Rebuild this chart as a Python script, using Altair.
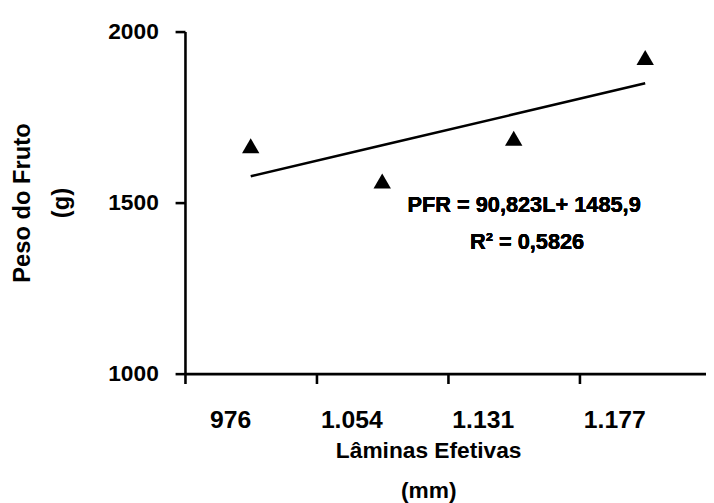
import altair as alt
import pandas as pd

# Data
laminas = ["976", "1.054", "1.131", "1.177"]          # Lâminas efetivas (mm)
peso = [1666, 1563, 1688, 1924]                       # Peso do fruto (g)
tendencia = [1577, 1668, 1758, 1849]                  # linear trend PFR = 90,823L + 1485,9
eq_lines = ["PFR = 90,823L+ 1485,9", "R² = 0,5826"]
y_ticks = [1000, 1500, 2000]

df = pd.DataFrame({"lamina": laminas, "peso": peso, "tend": tendencia})

FONT = "Liberation Sans"

x_enc = alt.X(
    "lamina:N",
    sort=laminas,
    scale=alt.Scale(range=[0, 532], paddingInner=0, paddingOuter=0),
    axis=alt.Axis(
        title=["Lâminas Efetivas", "(mm)"],
        labelAngle=0,
        labelFontSize=25,
        labelPadding=36,
        tickBand="extent",
        tickSize=10,
        titleFontSize=23,
        titleLineHeight=40,
        titleX=246,
        titleY=78,
        titleAlign="center",
        titleBaseline="middle",
    ),
)

y_enc = alt.Y(
    "peso:Q",
    scale=alt.Scale(domain=[1000, 2000], nice=False, zero=False),
    axis=alt.Axis(
        title=["Peso do Fruto", "(g)"],
        values=y_ticks,
        format="d",
        labelFontSize=23,
        labelPadding=17,
        tickSize=10,
        titleFontSize=24,
        titleLineHeight=39,
        titleAngle=270,
        titleX=-164,
        titleY=173,
        titleAlign="center",
        titleBaseline="middle",
    ),
)

points = alt.Chart(df).mark_point(
    shape="triangle-up", filled=True, size=310, color="black", opacity=1
).encode(x=x_enc, y=y_enc)

trend = alt.Chart(df).mark_line(color="black", strokeWidth=2.6).encode(
    x=alt.X("lamina:N", sort=laminas),
    y=alt.Y("tend:Q"),
)

eq1 = alt.Chart(df).mark_text(
    text=eq_lines[0], font=FONT, fontWeight="bold", fontSize=22,
    align="center", baseline="middle", color="black"
).encode(x=alt.value(343), y=alt.value(175))

eq2 = alt.Chart(df).mark_text(
    text=eq_lines[1], font=FONT, fontWeight="bold", fontSize=22,
    align="center", baseline="middle", color="black"
).encode(x=alt.value(346), y=alt.value(213))

chart = (
    alt.layer(trend, points, eq1, eq2)
    .properties(
        width=527,
        height=346,
        autosize=alt.AutoSizeParams(type="none"),
        padding={"left": 179, "top": 21, "right": 0, "bottom": 128},
        background="white",
    )
    .configure_view(stroke=None)
    .configure_axis(
        domainColor="black",
        domainWidth=2.6,
        tickColor="black",
        tickWidth=2.6,
        grid=False,
        labelFont=FONT,
        labelFontWeight="bold",
        labelColor="black",
        titleFont=FONT,
        titleFontWeight="bold",
        titleColor="black",
    )
)

chart.save("out.html", embed_options={"renderer": "svg", "actions": False})
